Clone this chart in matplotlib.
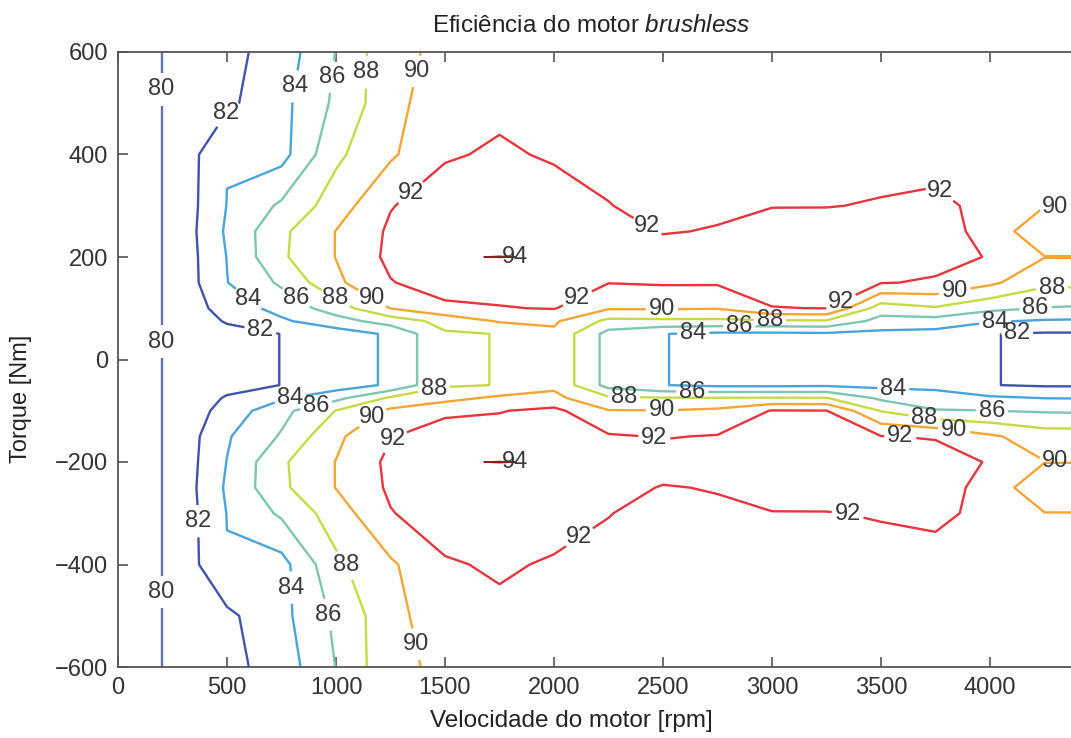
import numpy as np
import matplotlib
matplotlib.use("Agg")
import matplotlib.pyplot as plt

# ---------------- data (efficiency in %) ----------------
speed = [0, 250, 500, 750, 1000, 1250, 1500, 1750, 2000, 2250,
         2500, 2750, 3000, 3250, 3500, 3750, 4000, 4250, 4500]          # rpm
torque = [-600, -500, -400, -300, -250, -200, -150, -100, -75, -50, 0,
          50, 75, 100, 150, 200, 250, 300, 400, 500, 600]               # Nm

eff_p600 = [79.2, 80.2, 81.4, 82.9, 86.05, 89.5, 90.4, 90.8, 91.0, 91.2, 91.3, 91.3, 91.4, 91.4, 91.4, 91.4, 91.3, 91.2, 91.2]
eff_p500 = [79.2, 80.2, 81.6, 83.4, 86.4, 89.35, 91.2, 91.6, 91.6, 91.6, 91.5, 91.5, 91.6, 91.6, 91.6, 91.6, 91.4, 91.3, 91.3]
eff_p400 = [79.2, 80.2, 83.9, 83.3, 87.6, 89.7, 91.8, 92.25, 91.8, 91.5, 91.4, 91.4, 91.5, 91.5, 91.5, 91.3, 91.3, 91.2, 91.2]
eff_p300 = [79.2, 80.2, 84.05, 86.33, 88.99, 91.9, 93.0, 93.4, 92.8, 92.05, 91.5, 91.7, 91.95, 91.95, 92.1, 92.4, 91.5, 90.05, 90.05]
eff_p250 = [79.2, 80.2, 84.3, 87.6, 90.05, 92.31, 93.2, 93.3, 93.2, 92.6, 91.9, 92.1, 92.6, 92.7, 92.8, 93.0, 91.2, 88.5, 88.5]
eff_p200 = [79.2, 80.2, 84.05, 87.7, 90.05, 92.46, 93.95, 94.02, 93.95, 93.4, 92.8, 92.7, 92.9, 93.0, 92.9, 92.6, 91.9, 90.05, 90.05]
eff_p150 = [79.2, 80.2, 83.95, 86.34, 89.6, 91.9, 92.9, 92.8, 92.5, 92.05, 92.2, 92.2, 92.4, 92.3, 92.1, 91.8, 90.4, 88.5, 88.5]
eff_p100 = [79.2, 80.2, 82.93, 84.66, 87.0, 90.05, 91.6, 91.9, 92.1, 90.2, 90.2, 90.1, 91.97, 92.02, 87.0, 87.8, 86.5, 85.9, 85.7]
eff_p075 = [79.2, 80.2, 82.2, 83.7, 85.2, 86.9, 88.65, 90.2, 90.3, 87.5, 87.6, 87.6, 87.7, 87.8, 85.3, 85.2, 84.2, 83.8, 83.7]
eff_p050 = [79.2, 80.2, 81.3, 82.03, 83.0, 84.3, 87.78, 88.05, 89.6, 85.3, 84.05, 83.6, 83.6, 83.7, 83.5, 83.3, 82.05, 81.8, 81.8]
eff_000 = [79.2, 80.2, 81.3, 82.03, 83.0, 84.3, 87.78, 88.05, 89.6, 85.3, 84.05, 83.6, 83.6, 83.7, 83.5, 83.3, 82.05, 81.8, 81.8]
eff_m050 = [79.2, 80.2, 81.3, 82.03, 83.0, 84.3, 87.78, 88.05, 89.6, 85.3, 84.05, 83.6, 83.6, 83.7, 83.5, 83.3, 82.05, 81.8, 81.8]
eff_m075 = [79.2, 80.2, 82.2, 83.7, 85.4, 88.3, 89.3, 90.4, 90.5, 88.3, 88.1, 88.05, 88.1, 88.05, 85.6, 85.1, 84.3, 83.95, 83.9]
eff_m100 = [79.2, 80.2, 82.8, 85.4, 88.05, 90.37, 91.6, 91.9, 92.5, 90.1, 90.05, 90.4, 92.1, 92.05, 87.9, 86.1, 86.02, 85.8, 85.7]
eff_m150 = [79.2, 80.2, 83.8, 86.2, 89.6, 91.9, 93.0, 92.9, 92.7, 92.2, 91.9, 92.1, 92.4, 92.3, 92.05, 91.9, 90.3, 89.0, 89.0]
eff_m200 = [79.2, 80.2, 84.05, 87.7, 90.05, 92.46, 93.95, 94.02, 93.95, 93.4, 92.8, 92.7, 92.9, 93.0, 92.9, 92.6, 91.9, 90.05, 90.05]
eff_m250 = [79.2, 80.2, 84.3, 87.6, 90.05, 92.31, 93.2, 93.3, 93.2, 92.6, 91.9, 92.1, 92.6, 92.7, 92.8, 93.0, 91.2, 88.5, 88.5]
eff_m300 = [79.2, 80.2, 84.05, 86.33, 88.99, 91.9, 93.0, 93.4, 92.8, 92.05, 91.5, 91.7, 91.95, 91.95, 92.1, 92.4, 91.5, 90.05, 90.05]
eff_m400 = [79.2, 80.2, 83.9, 83.3, 87.6, 89.7, 91.8, 92.25, 91.8, 91.5, 91.4, 91.4, 91.5, 91.5, 91.5, 91.3, 91.3, 91.2, 91.2]
eff_m500 = [79.2, 80.2, 81.6, 83.4, 86.4, 89.35, 91.2, 91.6, 91.6, 91.6, 91.5, 91.5, 91.6, 91.6, 91.6, 91.6, 91.4, 91.3, 91.3]
eff_m600 = [79.2, 80.2, 81.4, 82.9, 86.05, 89.5, 90.4, 90.8, 91.0, 91.2, 91.3, 91.3, 91.4, 91.4, 91.4, 91.4, 91.3, 91.2, 91.2]

levels = [80, 82, 84, 86, 88, 90, 92, 94]
x_ticks = [0, 500, 1000, 1500, 2000, 2500, 3000, 3500, 4000]
y_ticks = [-600, -400, -200, 0, 200, 400, 600]

title_main = "Eficiência do motor "
title_italic = "brushless"
x_label = "Velocidade do motor [rpm]"
y_label = "Torque [Nm]"

# ---------------- styling / layout ----------------
level_colors = {80: "#6570b5", 82: "#4153ad", 84: "#4aa3dc", 86: "#7dc6b2",
                88: "#c6da45", 90: "#f4a534", 92: "#e8343b", 94: "#8c1f1f"}
level_widths = {80: 1.7, 82: 1.7, 84: 1.7, 86: 1.7, 88: 1.7, 90: 1.7, 92: 1.7, 94: 1.1}
label_positions = {
    80: [(193, 527), (193, 35), (193, -453)],
    82: [(505, 478), (651, 53), (330, -316), (4124, 50)],
    84: [(812, 533), (596, 117), (2638, 53), (789, -74), (798, -445), (3555, -68), (4023, 74)],
    86: [(977, 552), (803, 111), (908, -88), (963, -498), (2850, 66), (2633, -68), (4009, -94), (4211, 94)],
    88: [(1142, 560), (972, 101), (1454, -68), (1050, -400), (2990, 74), (2321, -84), (3702, -107), (4284, 135)],
    90: [(1372, 562), (1156, 113), (1147, -101), (1362, -556), (2495, 101), (2495, -101),
         (3839, 131), (3839, -127), (4298, 299), (4298, -199)],
    92: [(1330, 332), (2417, 252), (3771, 328), (2119, 109), (3312, 117), (1261, -156),
         (2463, -146), (3587, -156), (2087, -328), (3349, -299)],
    94: [(1844, 197), (1844, -201)],
}

plt.rcParams["font.family"] = ["Liberation Sans", "DejaVu Sans"]
plt.rcParams["mathtext.fontset"] = "custom"
plt.rcParams["mathtext.rm"] = "Liberation Sans"
plt.rcParams["mathtext.it"] = "Liberation Sans:italic"

Z = np.array([eff_m600, eff_m500, eff_m400, eff_m300, eff_m250, eff_m200, eff_m150,
              eff_m100, eff_m075, eff_m050, eff_000, eff_p050, eff_p075, eff_p100,
              eff_p150, eff_p200, eff_p250, eff_p300, eff_p400, eff_p500, eff_p600])

W, H = 1071, 738
fig = plt.figure(figsize=(W / 100, H / 100), dpi=100)
ax = fig.add_axes([118 / W, 71 / H, 981 / W, 615 / H])
ax.set_xlim(0, 4500)
ax.set_ylim(-600, 600)

for lev in levels:
    cs = ax.contour(speed, torque, Z, levels=[lev], colors=[level_colors[lev]],
                    linewidths=level_widths[lev])
    txts = ax.clabel(cs, manual=label_positions[lev], inline=(lev != 94),
                     inline_spacing=3, fontsize=17, colors="#3a3a3a", fmt="%d")
    for t in txts:
        t.set_rotation(0)

ax.set_xticks(x_ticks)
ax.set_yticks(y_ticks)
ax.tick_params(direction="in", length=7, width=1.2, top=True, right=False,
               labelsize=17, labelcolor="#333333", color="#555555", pad=7)
for side in ["left", "bottom", "top", "right"]:
    ax.spines[side].set_color("#555555")
    ax.spines[side].set_linewidth(1.3)

fig.text(591 / W, 1 - 26 / H, title_main + r"$\mathit{" + title_italic + "}$",
         ha="center", va="center", fontsize=17.5, color="#222222")
fig.text(571 / W, 1 - 721 / H, x_label, ha="center", va="center", fontsize=17.5, color="#222222")
fig.text(21 / W, 1 - 399 / H, y_label, ha="center", va="center", rotation=90,
         fontsize=17, color="#222222")

fig.savefig("out.png", dpi=100)
